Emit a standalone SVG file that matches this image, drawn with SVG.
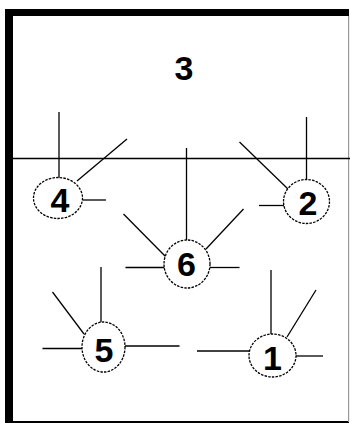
<svg xmlns="http://www.w3.org/2000/svg" width="350" height="423" viewBox="0 0 350 423">
<style>
.ln{stroke:#000;stroke-width:1.3;fill:none}
.nd{fill:#fff;stroke:#000;stroke-width:1.3;stroke-dasharray:2.5 1.2}
.lb{font-family:"Liberation Sans",Arial,sans-serif;font-weight:bold;font-size:34px;fill:#000;text-anchor:middle}
</style>
<rect x="0" y="0" width="350" height="423" fill="#fff"/>
<g id="frame">
<rect x="5" y="9" width="344" height="414" fill="#000"/>
<rect x="13" y="16" width="335" height="405" fill="#fff"/>
<rect x="348" y="16" width="1.2" height="406" fill="#999"/>
<text class="lb" x="184" y="80">3</text>
</g>
<g id="connectors">
<line class="ln" x1="13" y1="158.5" x2="350" y2="158.5"/>
<line class="ln" x1="59" y1="112" x2="59" y2="178"/>
<line class="ln" x1="127" y1="139" x2="77" y2="181"/>
<line class="ln" x1="83" y1="200" x2="106" y2="200"/>
<line class="ln" x1="306.5" y1="117" x2="306.5" y2="180"/>
<line class="ln" x1="239.5" y1="142" x2="289" y2="190"/>
<line class="ln" x1="259" y1="205.5" x2="284" y2="205.5"/>
<line class="ln" x1="186.5" y1="148" x2="186.5" y2="240"/>
<line class="ln" x1="123.5" y1="214" x2="166" y2="257"/>
<line class="ln" x1="243.5" y1="209" x2="206" y2="249"/>
<line class="ln" x1="125.5" y1="267.5" x2="165" y2="267.5"/>
<line class="ln" x1="210" y1="267.5" x2="239.5" y2="267.5"/>
<line class="ln" x1="101" y1="267" x2="101" y2="322"/>
<line class="ln" x1="52.5" y1="292" x2="84" y2="334"/>
<line class="ln" x1="42.5" y1="348.5" x2="82" y2="348.5"/>
<line class="ln" x1="125" y1="346" x2="179.5" y2="346"/>
<line class="ln" x1="271" y1="270" x2="271" y2="334"/>
<line class="ln" x1="316" y1="290" x2="287" y2="337"/>
<line class="ln" x1="197" y1="351" x2="250" y2="351"/>
<line class="ln" x1="296" y1="356" x2="323" y2="356"/>
</g>
<g id="node4"><ellipse class="nd" cx="58" cy="198" rx="24.5" ry="20.5"/><text class="lb" x="60" y="212">4</text></g>
<g id="node2"><ellipse class="nd" cx="306.5" cy="201.5" rx="23" ry="22"/><text class="lb" x="308" y="215">2</text></g>
<g id="node6"><ellipse class="nd" cx="187" cy="264" rx="23" ry="24"/><text class="lb" x="186.5" y="276">6</text></g>
<g id="node5"><ellipse class="nd" cx="103.5" cy="347" rx="21.5" ry="25"/><text class="lb" x="104" y="362">5</text></g>
<g id="node1"><ellipse class="nd" cx="272.5" cy="355.5" rx="23.5" ry="21.5"/><text class="lb" x="272.5" y="370">1</text></g>
</svg>
